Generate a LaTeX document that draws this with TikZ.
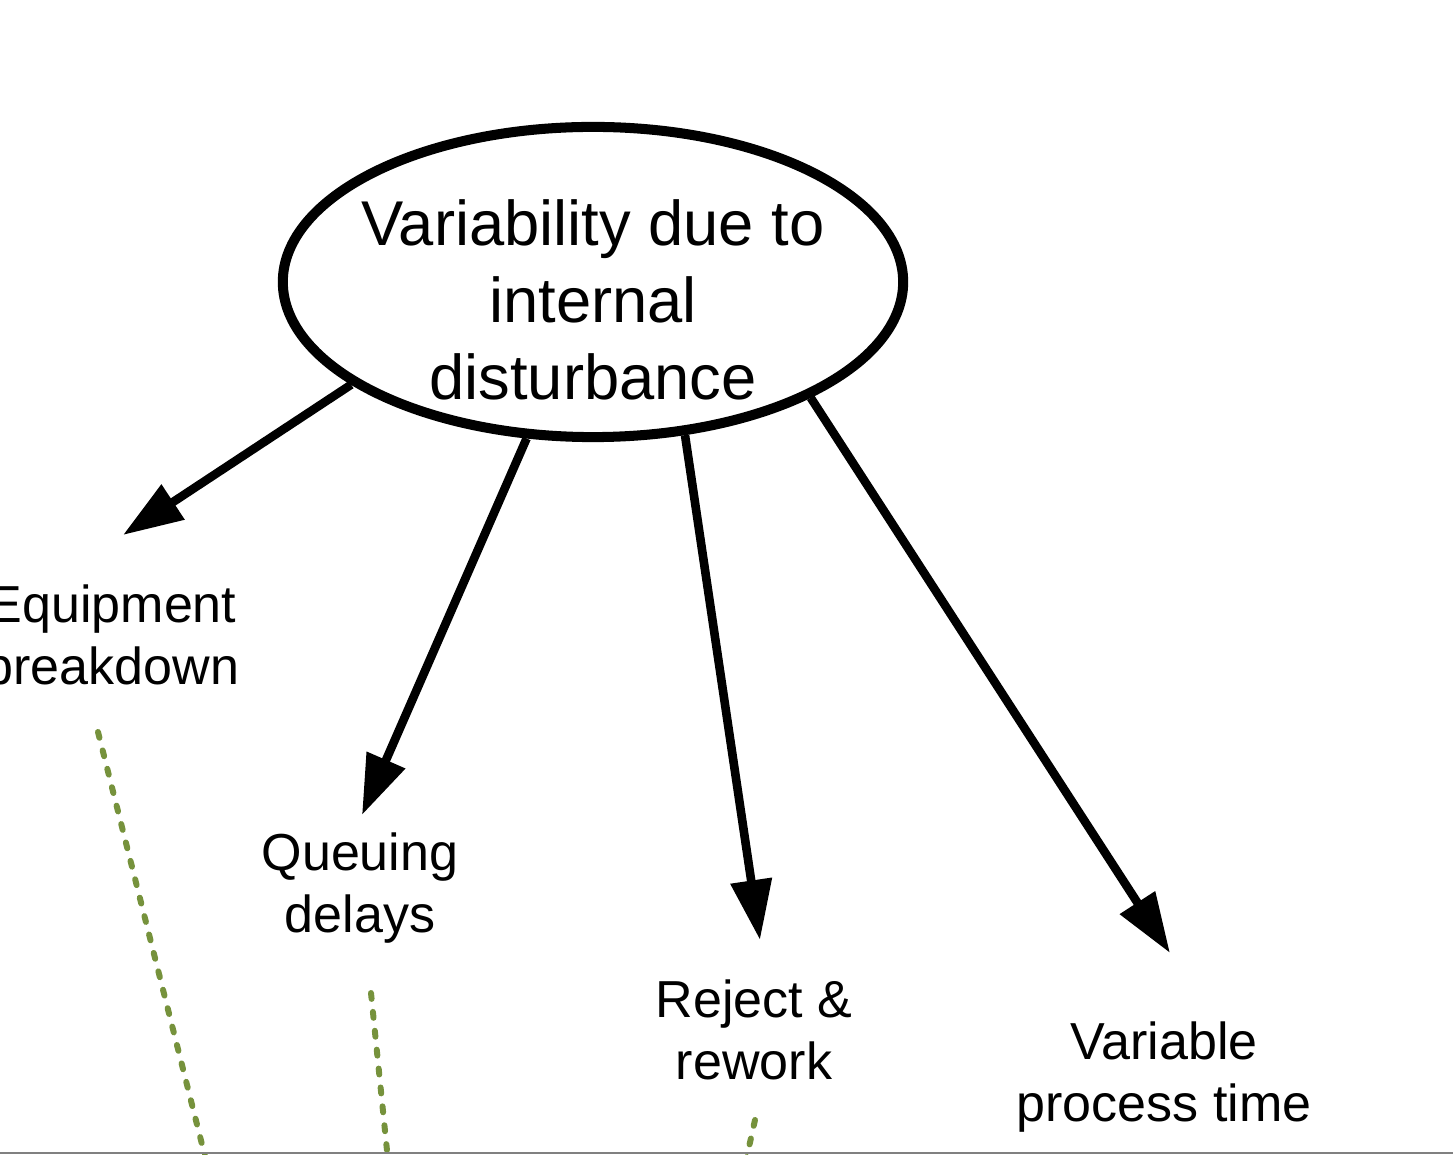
\documentclass[tikz,border=0pt]{standalone}
\usepackage{fontspec}
\setmainfont{Liberation Sans}
\usetikzlibrary{shapes.geometric,arrows.meta}
\definecolor{olivedot}{HTML}{76923C}
\begin{document}
\begin{tikzpicture}[x=0.01cm,y=-0.01cm,line join=round,
		cause/.style={ellipse,draw,line width=2.85pt,minimum width=6.2cm,minimum height=3.1cm,inner sep=0pt},
		causetext/.style={align=center,inner sep=0pt,font=\fontsize{18}{21.9}\selectfont},
		effect/.style={align=center,inner sep=0pt,font=\fontsize{14.8}{17.7}\selectfont},
		link/.style={-{Triangle[length=6mm,width=4mm]},line width=2.45pt},
		trace/.style={olivedot,line width=1.7pt,line cap=round,dash pattern=on 1.7pt off 3.7pt}]
			\useasboundingbox (0,0) rectangle (1453,1155);
			\clip (0,0) rectangle (1453,1155);
			\node[cause] (dist) at (593,282) {};
			\node[causetext] (distText) at (593,300) {Variability due to\\internal\\disturbance};
			\node[effect] (equip) at (112,635) {Equipment\\breakdown};
			\node[effect] (queue) at (360,888) {Queuing\\delays};
			\node[effect] (reject) at (754,1030) {Reject \&\\rework};
			\node[effect] (vartime) at (1164,1077) {Variable\\process time};
			\coordinate (tipEquip) at (123,535);
			\coordinate (tipQueue) at (362,815);
			\coordinate (tipReject) at (760,940);
			\coordinate (tipVar) at (1170,953);
			\draw[link] (dist.203) -- (tipEquip);
			\draw[link] (dist.247) -- (tipQueue);
			\draw[link] (dist.301) -- (tipReject);
			\draw[link] (dist.332) -- (tipVar);
			\coordinate (equipA) at (98,732);
			\coordinate (equipB) at (211,1180);
			\coordinate (queueA) at (371,993);
			\coordinate (queueB) at (390,1180);
			\coordinate (rejectA) at (755,1120);
			\coordinate (rejectB) at (745,1165);
			\draw[trace] (equipA) -- (equipB);
			\draw[trace] (queueA) -- (queueB);
			\draw[trace] (rejectA) -- (rejectB);
			\draw[gray,line width=0.5pt] (0,1153)--(1453,1153);
		\end{tikzpicture}
\end{document}
